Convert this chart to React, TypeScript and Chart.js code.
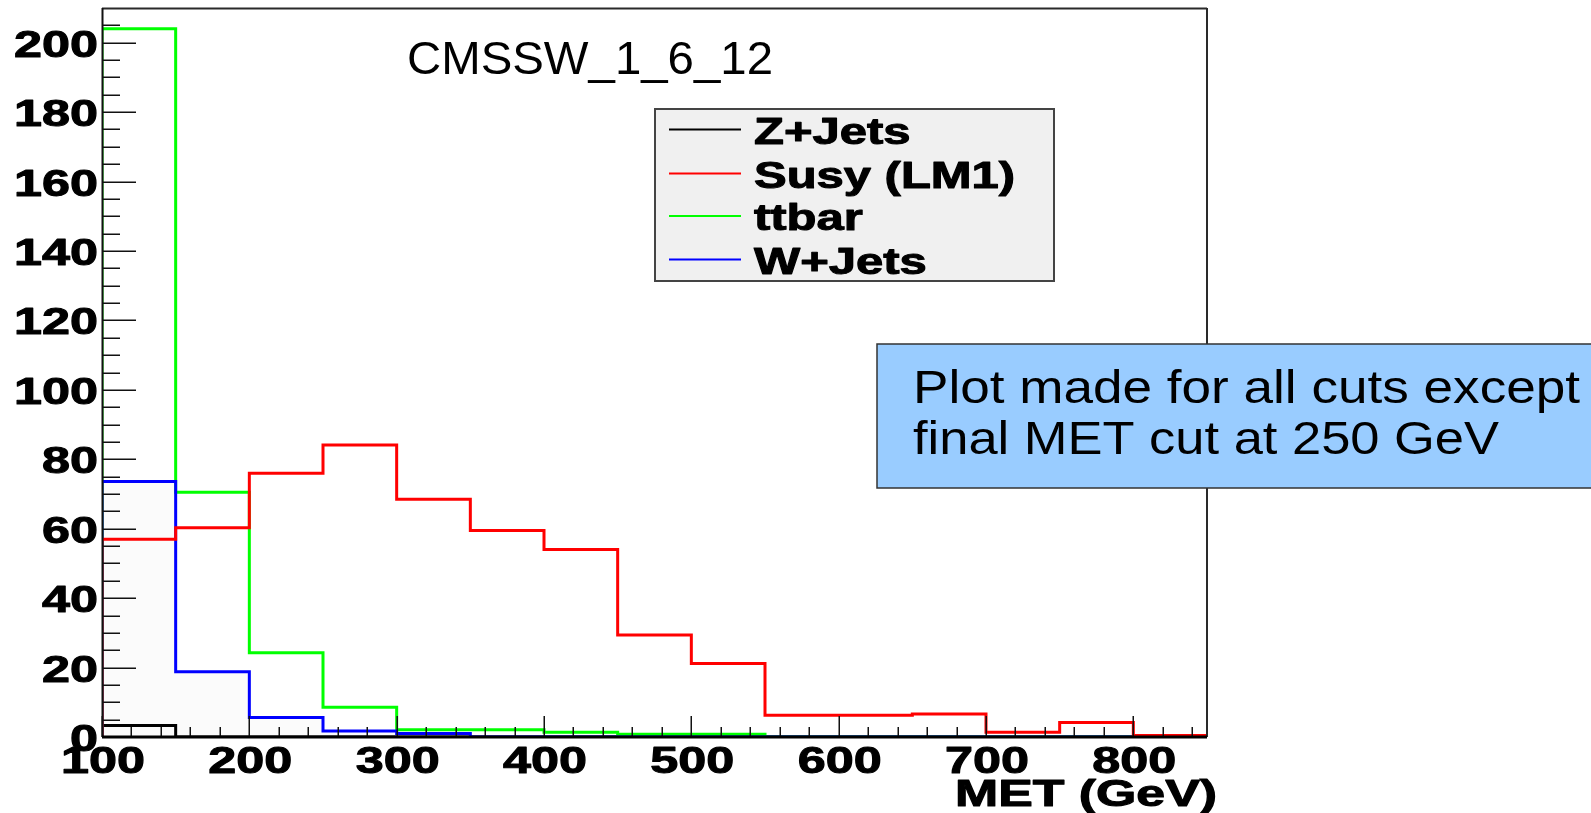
import React, { useEffect, useRef } from 'react';
import { Chart, registerables } from 'chart.js';

Chart.register(...registerables);

// Histogram binning (MET in GeV, 50 GeV bins)
const binEdges = [100, 150, 200, 250, 300, 350, 400, 450, 500, 550, 600, 650, 700, 750, 800, 850];

// Bin contents, one value per bin
const zJets = [3.3, 0, 0, 0, 0, 0, 0, 0, 0, 0, 0, 0, 0, 0, 0];
const susyLM1 = [57.0, 60.3, 76.0, 84.1, 68.5, 59.5, 54.0, 29.4, 21.2, 6.3, 6.3, 6.6, 1.4, 4.2, 0.4];
const ttbar = [204.0, 70.5, 24.3, 8.6, 2.1, 2.1, 1.4, 0.8, 0.8, 0, 0, 0, 0, 0, 0];
const wJets = [73.6, 18.8, 5.6, 1.7, 1.0, 0, 0, 0, 0, 0, 0, 0, 0, 0, 0];

const seriesNames = ['Z+Jets', 'Susy (LM1)', 'ttbar', 'W+Jets'];
const seriesColors = ['#000000', '#ff0000', '#00ff00', '#0000ff'];

const yTickLabels = [0, 20, 40, 60, 80, 100, 120, 140, 160, 180, 200];
const xTickLabels = [100, 200, 300, 400, 500, 600, 700, 800];

const xTitle = 'MET (GeV)';
const releaseLabel = 'CMSSW_1_6_12';
const noteLines = ['Plot made for all cuts except', 'final MET cut at 250 GeV'];

const W = 1591;
const H = 813;
const AREA = { left: 102, top: 8, right: 1207, bottom: 737 };
const BOLD = (px: number) => `bold ${px}px "Liberation Sans", Arial, Helvetica, sans-serif`;
const REG = (px: number) => `${px}px "Liberation Sans", Arial, Helvetica, sans-serif`;
const LABEL_PX = 37;
const LABEL_SX = 1.36;

// Outline points for a step histogram: start at zero, one point per bin low edge, close at the upper edge
function histPoints(values: number[]) {
  const pts = [{ x: binEdges[0], y: 0 }];
  values.forEach((v, i) => pts.push({ x: binEdges[i], y: v }));
  pts.push({ x: binEdges[binEdges.length - 1], y: values[values.length - 1] });
  return pts;
}

// Horizontally scaled text; a thin outline gives the heavy look of the axis font
function drawStretched(
  ctx: CanvasRenderingContext2D,
  text: string,
  x: number,
  y: number,
  font: string,
  sx: number,
  align: CanvasTextAlign,
  weight = 0,
) {
  ctx.save();
  ctx.font = font;
  ctx.textAlign = align;
  ctx.textBaseline = 'alphabetic';
  ctx.translate(x, y);
  ctx.scale(sx, 1);
  ctx.fillText(text, 0, 0);
  if (weight > 0) {
    ctx.lineWidth = weight;
    ctx.lineJoin = 'round';
    ctx.strokeStyle = ctx.fillStyle as string;
    ctx.strokeText(text, 0, 0);
  }
  ctx.restore();
}

function drawFitted(ctx: CanvasRenderingContext2D, text: string, left: number, y: number, font: string, width: number, weight = 0) {
  ctx.save();
  ctx.font = font;
  const natural = ctx.measureText(text).width;
  ctx.restore();
  drawStretched(ctx, text, left, y, font, width / natural, 'left', weight);
}

const rootFrame = {
  id: 'rootFrame',
  afterDatasetsDraw(chart: any) {
    const { ctx, scales } = chart;
    const xs = scales.x;
    const ys = scales.y;
    const { left, right, top, bottom } = chart.chartArea;
    ctx.save();
    ctx.lineCap = 'butt';

    // frame top and right
    ctx.strokeStyle = '#2a2a2a';
    ctx.lineWidth = 2;
    ctx.beginPath();
    ctx.moveTo(left, top + 0.5);
    ctx.lineTo(right, top + 0.5);
    ctx.moveTo(right, top);
    ctx.lineTo(right, bottom);
    ctx.stroke();

    // y axis with major and minor ticks
    ctx.strokeStyle = '#111';
    ctx.lineWidth = 2;
    ctx.beginPath();
    ctx.moveTo(left + 0.5, top);
    ctx.lineTo(left + 0.5, bottom);
    ctx.stroke();
    ctx.lineWidth = 1.5;
    ctx.beginPath();
    for (let v = 0; v <= 205; v += 5) {
      const y = Math.round(ys.getPixelForValue(v)) + 0.25;
      const len = v % 20 === 0 ? 34 : 18;
      ctx.moveTo(left, y);
      ctx.lineTo(left + len, y);
    }
    ctx.stroke();

    // x axis with major and minor ticks
    ctx.beginPath();
    for (let v = 100; v < 850; v += 20) {
      const x = Math.round(xs.getPixelForValue(v)) + 0.25;
      const len = v % 100 === 0 ? 21 : 10;
      ctx.moveTo(x, bottom);
      ctx.lineTo(x, bottom - len);
    }
    ctx.stroke();
    ctx.strokeStyle = '#000';
    ctx.lineWidth = 3;
    ctx.beginPath();
    ctx.moveTo(left, bottom);
    ctx.lineTo(right, bottom);
    ctx.stroke();

    // tick labels
    ctx.fillStyle = '#000';
    yTickLabels.forEach((v) => {
      const y = ys.getPixelForValue(v);
      drawStretched(ctx, String(v), left - 4, y + 14, BOLD(LABEL_PX), LABEL_SX, 'right', 1);
    });
    xTickLabels.forEach((v) => {
      const x = xs.getPixelForValue(v);
      drawStretched(ctx, String(v), x + 1, bottom + 36, BOLD(LABEL_PX), LABEL_SX, 'center', 1);
    });

    // axis title
    drawFitted(ctx, xTitle, 955, 806, BOLD(36), 262, 1);
    ctx.restore();
  },
  afterDraw(chart: any) {
    const { ctx } = chart;
    ctx.save();

    // release label
    ctx.fillStyle = '#000';
    drawFitted(ctx, releaseLabel, 407, 74, REG(47), 366);

    // legend
    ctx.fillStyle = '#f0f0f0';
    ctx.fillRect(655, 109, 399, 172);
    ctx.strokeStyle = '#444';
    ctx.lineWidth = 2;
    ctx.strokeRect(655, 109, 399, 172);
    const rows = [129.5, 173.5, 216, 259.5];
    seriesNames.forEach((name, i) => {
      ctx.strokeStyle = seriesColors[i];
      ctx.lineWidth = 2;
      ctx.beginPath();
      ctx.moveTo(669, rows[i]);
      ctx.lineTo(741, rows[i]);
      ctx.stroke();
      ctx.fillStyle = '#000';
      drawStretched(ctx, name, 754, rows[i] + 14, BOLD(36), 1.36, 'left', 1);
    });

    // note box
    ctx.fillStyle = '#99ccff';
    ctx.fillRect(877, 344, 760, 144);
    ctx.strokeStyle = '#333';
    ctx.lineWidth = 1.5;
    ctx.strokeRect(877, 344, 760, 144);
    ctx.fillStyle = '#000';
    drawFitted(ctx, noteLines[0], 913, 403, REG(47), 667);
    drawFitted(ctx, noteLines[1], 913, 454, REG(47), 586);
    ctx.restore();
  },
};

export default function App() {
  const canvasRef = useRef<HTMLCanvasElement | null>(null);

  useEffect(() => {
    document.body.style.margin = '0';
    const canvas = canvasRef.current;
    if (!canvas) return;
    const mk = (i: number, values: number[], order: number, fill?: string) => ({
      label: seriesNames[i],
      data: histPoints(values),
      borderColor: seriesColors[i],
      borderWidth: 3,
      stepped: true,
      pointRadius: 0,
      fill: fill ? 'origin' : false,
      backgroundColor: fill || 'transparent',
      order,
    });
    const chart = new Chart(canvas, {
      type: 'line',
      data: {
        datasets: [
          mk(0, zJets, 4),
          mk(1, susyLM1, 1),
          mk(2, ttbar, 3),
          mk(3, wJets, 2, '#fbfbfb'),
        ] as any,
      },
      options: {
        animation: false,
        responsive: false,
        devicePixelRatio: 1,
        layout: {
          padding: { left: AREA.left, top: AREA.top, right: W - AREA.right, bottom: H - AREA.bottom },
        },
        scales: {
          x: { type: 'linear', min: 100, max: 850, display: false },
          y: { type: 'linear', min: 0, max: 210, display: false },
        },
        plugins: {
          legend: { display: false },
          tooltip: { enabled: false },
          filler: { drawTime: 'beforeDatasetsDraw' },
        } as any,
      },
      plugins: [rootFrame],
    });
    return () => chart.destroy();
  }, []);

  return (
    <div style={{ position: 'absolute', left: 0, top: 0, width: W, height: H, background: '#fff' }}>
      <canvas ref={canvasRef} width={W} height={H} style={{ display: 'block' }} />
    </div>
  );
}
